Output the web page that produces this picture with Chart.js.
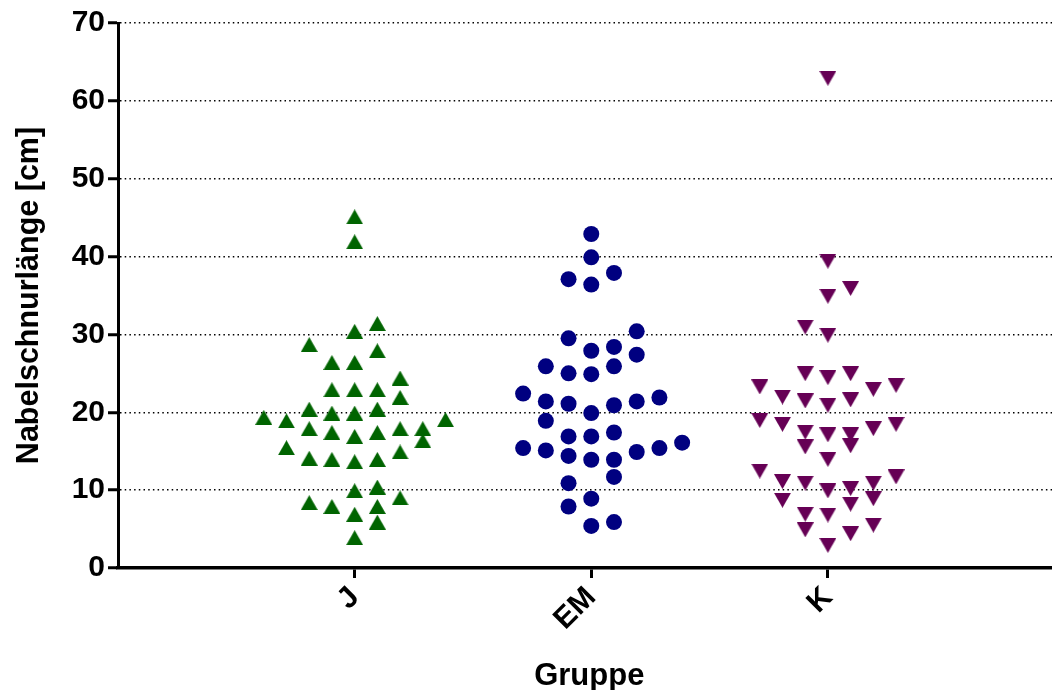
<!DOCTYPE html>
<html>
<head>
<meta charset="utf-8">
<script src="https://cdn.jsdelivr.net/npm/chart.js@4.4.0/dist/chart.umd.min.js"></script>
<style>
  html, body { margin: 0; padding: 0; background: #ffffff; }
  #wrap { width: 1052px; height: 690px; position: relative; }
</style>
</head>
<body>
<div id="wrap"><canvas id="c" width="1052" height="690"></canvas></div>
<script>
// ---- Data ----
const groups = ['J', 'EM', 'K'];
const yTicks = [0, 10, 20, 30, 40, 50, 60, 70];

// Group J (values in cm) and their jitter column
const jValues = [45.1, 41.9, 31.4, 30.4, 28.7, 27.9, 26.4, 26.4, 24.4, 22.9, 22.9, 22.9, 21.9,
  19.35, 18.9, 20.4, 19.9, 19.9, 20.4, 19.05, 17.9, 17.4, 16.9, 17.4, 17.9, 17.9, 16.35,
  15.45, 14.9, 14.1, 13.95, 13.65, 13.95, 9.93, 10.4, 9.0, 8.4, 7.9, 6.9, 7.9, 5.9, 3.9];
const jCols = [0, 0, 1, 0, -2, 1, -1, 0, 2, -1, 0, 1, 2,
  -4, -3, -2, -1, 0, 1, 4, -2, -1, 0, 1, 2, 3, 3,
  -3, 2, -2, -1, 0, 1, 0, 1, 2, -2, -1, 0, 1, 1, 0];

// Group EM
const emValues = [42.9, 39.9, 37.1, 36.4, 37.9, 29.5, 30.4, 27.9, 28.4, 27.4, 25.9, 25.0, 24.9, 25.9,
  22.4, 21.4, 21.1, 19.9, 20.9, 21.4, 21.9, 18.9, 16.9, 16.9, 17.4,
  15.4, 15.1, 14.4, 13.9, 13.9, 14.9, 15.4, 16.1, 11.7, 10.9, 8.9, 7.9, 5.9, 5.4];
const emCols = [0, 0, -1, 0, 1, -1, 2, 0, 1, 2, -2, -1, 0, 1,
  -3, -2, -1, 0, 1, 2, 3, -2, -1, 0, 1,
  -3, -2, -1, 0, 1, 2, 3, 4, 1, -1, 0, -1, 1, 0];

// Group K
const kValues = [62.9, 39.4, 35.9, 34.9, 30.95, 29.9, 24.95, 24.45, 24.95, 23.25, 23.45, 22.95,
  21.96, 21.45, 20.9, 21.6, 18.95, 18.45, 17.45, 17.1, 17.1, 17.9, 18.45,
  15.55, 15.7, 13.95, 12.45, 11.7, 11.1, 10.9, 10.9, 9.9, 10.2,
  8.7, 8.9, 8.2, 6.9, 6.8, 4.9, 5.5, 4.4, 2.9];
const kCols = [0, 0, 1, 0, -1, 0, -1, 0, 1, -3, 3, 2,
  -2, -1, 0, 1, -3, -2, -1, 0, 1, 2, 3,
  -1, 1, 0, -3, 3, -2, -1, 2, 0, 1,
  -2, 2, 1, -1, 0, -1, 2, 1, 0];

// ---- Styling ----
const COL_STEP = 0.096;
const X_MAX = 3.947;
const colors = { J: '#006400', EM: '#000080', K: '#660055' };

function triangleImage(color, up) {
  const w = 17, h = 15;
  const c = document.createElement('canvas');
  c.width = w; c.height = h;
  const g = c.getContext('2d');
  g.fillStyle = color;
  g.beginPath();
  if (up) { g.moveTo(w / 2, 0); g.lineTo(w, h); g.lineTo(0, h); }
  else { g.moveTo(0, 0); g.lineTo(w, 0); g.lineTo(w / 2, h); }
  g.closePath();
  g.fill();
  return c;
}

function toPoints(values, cols, groupIndex) {
  return values.map((v, i) => ({ x: groupIndex + 1 + cols[i] * COL_STEP, y: v }));
}

const FONT = "'Liberation Sans', Arial, sans-serif";

new Chart(document.getElementById('c'), {
  type: 'scatter',
  data: {
    datasets: [
      { label: 'J', data: toPoints(jValues, jCols, 0), pointStyle: triangleImage(colors.J, true),
        backgroundColor: colors.J, borderColor: colors.J },
      { label: 'EM', data: toPoints(emValues, emCols, 1), pointStyle: 'circle', pointRadius: 8,
        backgroundColor: colors.EM, borderColor: colors.EM, borderWidth: 0 },
      { label: 'K', data: toPoints(kValues, kCols, 2), pointStyle: triangleImage(colors.K, false),
        backgroundColor: colors.K, borderColor: colors.K }
    ]
  },
  options: {
    responsive: false,
    animation: false,
    devicePixelRatio: 1,
    layout: { autoPadding: false, padding: { top: 23, right: 0, left: 0, bottom: 0 } },
    plugins: { legend: { display: false }, tooltip: { enabled: false } },
    scales: {
      x: {
        type: 'linear',
        min: 0,
        max: X_MAX,
        afterBuildTicks: (s) => { s.ticks = groups.map((g, i) => ({ value: i + 1 })); },
        afterFit: (s) => { s.height = 122; s.paddingRight = 0; s.paddingLeft = 0; },
        ticks: {
          callback: (v) => groups[v - 1] || '',
          minRotation: 45, maxRotation: 45,
          color: '#000', padding: 2,
          font: { family: FONT, size: 30, weight: 'bold' }
        },
        grid: { drawOnChartArea: false, drawTicks: true, tickLength: 10, tickWidth: 3, tickColor: '#000' },
        border: { display: true, color: '#000', width: 3.5 },
        title: { display: true, text: ' Gruppe', color: '#000', padding: { top: 0, bottom: -5 },
          font: { family: FONT, size: 31, weight: 'bold' } }
      },
      y: {
        min: 0,
        max: 70,
        afterBuildTicks: (s) => { s.ticks = yTicks.map(v => ({ value: v })); },
        afterFit: (s) => { s.width = 118; },
        ticks: { color: '#000', padding: 3, font: { family: FONT, size: 30, weight: 'bold' } },
        grid: { color: '#000', lineWidth: 1.5, drawTicks: true, tickLength: 10, tickWidth: 3, tickColor: '#000' },
        border: { display: true, color: '#000', width: 3, dash: [1.5, 3.2] },
        title: { display: true, text: 'Nabelschnurlänge [cm]', color: '#000', padding: { top: 11, bottom: 0 },
          font: { family: FONT, size: 30.5, weight: 'bold' } }
      }
    }
  }
});
</script>
</body>
</html>
